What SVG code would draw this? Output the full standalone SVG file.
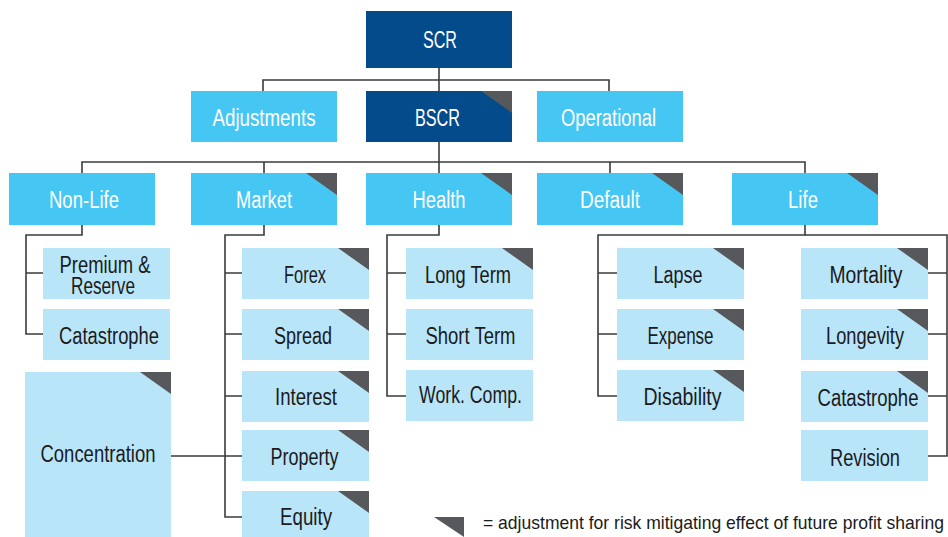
<svg xmlns="http://www.w3.org/2000/svg" xmlns:xlink="http://www.w3.org/1999/xlink" width="948" height="537" viewBox="0 0 948 537">
  <style>
    .navy { fill: #044b8c; }
    .cyan { fill: #45c6f3; }
    .pale { fill: #b9e5f9; }
    text { font-family: "Liberation Sans", Arial, sans-serif; }
    .lbl { font-size: 23.5px; text-anchor: middle; }
    .w { fill: #ffffff; }
    .d { fill: #1b1b1b; }
    .wire { fill: none; stroke: #3b3b3b; stroke-width: 1.6; }
    .flag { fill: #56585b; }
    .note { font-size: 18.5px; fill: #1b1b1b; }
  </style>
  <defs>
    <!-- profit-sharing flag, anchored at the box's top-right corner -->
    <path id="flag" class="flag" d="M-31,0 H0 V22 Z"/>
  </defs>

  <g id="connectors" class="wire">
    <!-- SCR to second tier -->
    <path d="M439,68 V91 M263,91 V80 H609 V91"/>
    <!-- BSCR to risk modules -->
    <path d="M439,142 V173 M82,173 V162 H805 V173 M264,162 V173 M610,162 V173"/>
    <!-- Non-Life -->
    <path d="M82,225 V235 H26 V334 H43 M26,273 H43"/>
    <!-- Market -->
    <path d="M264,225 V235 H225 V517 H242 M225,273 H242 M225,334 H242 M225,396 H242 M171,456 H242"/>
    <!-- Health -->
    <path d="M439,225 V235 H387 V396 H406 M387,273 H406 M387,334 H406"/>
    <!-- Life (with Default sub-modules) -->
    <path d="M805,225 V235 H598 V396 H617 M598,273 H617 M598,334 H617"/>
    <path d="M805,235 H947 V456 H928 M947,273 H928 M947,334 H928 M947,396 H928"/>
  </g>

  <g id="scr">
    <rect class="navy" x="366" y="11" width="146" height="57"/>
    <text class="lbl w" x="440" y="48" textLength="34" lengthAdjust="spacingAndGlyphs">SCR</text>
  </g>

  <g id="adjustments">
    <rect class="cyan" x="191" y="91" width="146" height="51"/>
    <text class="lbl w" x="264" y="126" textLength="103" lengthAdjust="spacingAndGlyphs">Adjustments</text>
  </g>
  <g id="bscr">
    <rect class="navy" x="366" y="91" width="146" height="51"/>
    <use xlink:href="#flag" x="512" y="91"/>
    <text class="lbl w" x="437.5" y="126" textLength="45" lengthAdjust="spacingAndGlyphs">BSCR</text>
  </g>
  <g id="operational">
    <rect class="cyan" x="537" y="91" width="146" height="51"/>
    <text class="lbl w" x="608.5" y="126" textLength="95" lengthAdjust="spacingAndGlyphs">Operational</text>
  </g>

  <g id="non-life">
    <rect class="cyan" x="9" y="173" width="146" height="52"/>
    <text class="lbl w" x="84" y="208" textLength="70" lengthAdjust="spacingAndGlyphs">Non-Life</text>
  </g>
  <g id="market">
    <rect class="cyan" x="191" y="173" width="146" height="52"/>
    <use xlink:href="#flag" x="337" y="173"/>
    <text class="lbl w" x="264" y="208" textLength="56" lengthAdjust="spacingAndGlyphs">Market</text>
  </g>
  <g id="health">
    <rect class="cyan" x="366" y="173" width="146" height="52"/>
    <use xlink:href="#flag" x="512" y="173"/>
    <text class="lbl w" x="439" y="208" textLength="53" lengthAdjust="spacingAndGlyphs">Health</text>
  </g>
  <g id="default">
    <rect class="cyan" x="537" y="173" width="146" height="52"/>
    <use xlink:href="#flag" x="683" y="173"/>
    <text class="lbl w" x="610" y="208" textLength="60" lengthAdjust="spacingAndGlyphs">Default</text>
  </g>
  <g id="life">
    <rect class="cyan" x="732" y="173" width="146" height="52"/>
    <use xlink:href="#flag" x="878" y="173"/>
    <text class="lbl w" x="803" y="208" textLength="30" lengthAdjust="spacingAndGlyphs">Life</text>
  </g>

  <!-- Non-Life sub-modules -->
  <g id="premium-reserve">
    <rect class="pale" x="43" y="248" width="127" height="51"/>
    <text class="lbl d" x="105" y="273" textLength="91" lengthAdjust="spacingAndGlyphs">Premium &amp;</text>
    <text class="lbl d" x="103" y="294" textLength="64" lengthAdjust="spacingAndGlyphs">Reserve</text>
  </g>
  <g id="nl-catastrophe">
    <rect class="pale" x="43" y="309" width="127" height="51"/>
    <text class="lbl d" x="109" y="344" textLength="100" lengthAdjust="spacingAndGlyphs">Catastrophe</text>
  </g>
  <g id="concentration">
    <rect class="pale" x="25" y="372" width="146" height="165"/>
    <use xlink:href="#flag" x="171" y="372"/>
    <text class="lbl d" x="98" y="462" textLength="115" lengthAdjust="spacingAndGlyphs">Concentration</text>
  </g>

  <!-- Market sub-modules -->
  <g id="forex">
    <rect class="pale" x="242" y="248" width="127" height="51"/>
    <use xlink:href="#flag" x="369" y="248"/>
    <text class="lbl d" x="305" y="283" textLength="42" lengthAdjust="spacingAndGlyphs">Forex</text>
  </g>
  <g id="spread">
    <rect class="pale" x="242" y="309" width="127" height="51"/>
    <use xlink:href="#flag" x="369" y="309"/>
    <text class="lbl d" x="303" y="344" textLength="58" lengthAdjust="spacingAndGlyphs">Spread</text>
  </g>
  <g id="interest">
    <rect class="pale" x="242" y="371" width="127" height="51"/>
    <use xlink:href="#flag" x="369" y="371"/>
    <text class="lbl d" x="306" y="405" textLength="62" lengthAdjust="spacingAndGlyphs">Interest</text>
  </g>
  <g id="property">
    <rect class="pale" x="242" y="430" width="127" height="51"/>
    <use xlink:href="#flag" x="369" y="430"/>
    <text class="lbl d" x="304.5" y="465" textLength="68" lengthAdjust="spacingAndGlyphs">Property</text>
  </g>
  <g id="equity">
    <rect class="pale" x="242" y="491" width="127" height="46"/>
    <use xlink:href="#flag" x="369" y="491"/>
    <text class="lbl d" x="306" y="525" textLength="52" lengthAdjust="spacingAndGlyphs">Equity</text>
  </g>

  <!-- Health sub-modules -->
  <g id="long-term">
    <rect class="pale" x="406" y="248" width="127" height="51"/>
    <use xlink:href="#flag" x="533" y="248"/>
    <text class="lbl d" x="468" y="283" textLength="86" lengthAdjust="spacingAndGlyphs">Long Term</text>
  </g>
  <g id="short-term">
    <rect class="pale" x="406" y="309" width="127" height="51"/>
    <text class="lbl d" x="470.5" y="344" textLength="90" lengthAdjust="spacingAndGlyphs">Short Term</text>
  </g>
  <g id="work-comp">
    <rect class="pale" x="406" y="370" width="127" height="51"/>
    <text class="lbl d" x="470.5" y="403" textLength="103" lengthAdjust="spacingAndGlyphs">Work. Comp.</text>
  </g>

  <!-- Default sub-modules -->
  <g id="lapse">
    <rect class="pale" x="617" y="248" width="127" height="51"/>
    <use xlink:href="#flag" x="744" y="248"/>
    <text class="lbl d" x="678" y="283" textLength="49" lengthAdjust="spacingAndGlyphs">Lapse</text>
  </g>
  <g id="expense">
    <rect class="pale" x="617" y="309" width="127" height="51"/>
    <use xlink:href="#flag" x="744" y="309"/>
    <text class="lbl d" x="680.5" y="344" textLength="66" lengthAdjust="spacingAndGlyphs">Expense</text>
  </g>
  <g id="disability">
    <rect class="pale" x="617" y="370" width="127" height="51"/>
    <use xlink:href="#flag" x="744" y="370"/>
    <text class="lbl d" x="682.5" y="405" textLength="78" lengthAdjust="spacingAndGlyphs">Disability</text>
  </g>

  <!-- Life sub-modules -->
  <g id="mortality">
    <rect class="pale" x="801" y="248" width="127" height="51"/>
    <use xlink:href="#flag" x="928" y="248"/>
    <text class="lbl d" x="866" y="283" textLength="73" lengthAdjust="spacingAndGlyphs">Mortality</text>
  </g>
  <g id="longevity">
    <rect class="pale" x="801" y="309" width="127" height="51"/>
    <use xlink:href="#flag" x="928" y="309"/>
    <text class="lbl d" x="865" y="344" textLength="78" lengthAdjust="spacingAndGlyphs">Longevity</text>
  </g>
  <g id="life-catastrophe">
    <rect class="pale" x="801" y="371" width="127" height="51"/>
    <use xlink:href="#flag" x="928" y="371"/>
    <text class="lbl d" x="868" y="406" textLength="101" lengthAdjust="spacingAndGlyphs">Catastrophe</text>
  </g>
  <g id="revision">
    <rect class="pale" x="801" y="430" width="127" height="51"/>
    <text class="lbl d" x="865" y="466" textLength="70" lengthAdjust="spacingAndGlyphs">Revision</text>
  </g>

  <!-- legend -->
  <g id="legend">
    <path class="flag" d="M434,517 H464 V537 Z"/>
    <text class="note" x="483" y="529" textLength="461" lengthAdjust="spacingAndGlyphs">= adjustment for risk mitigating effect of future profit sharing</text>
  </g>
</svg>
